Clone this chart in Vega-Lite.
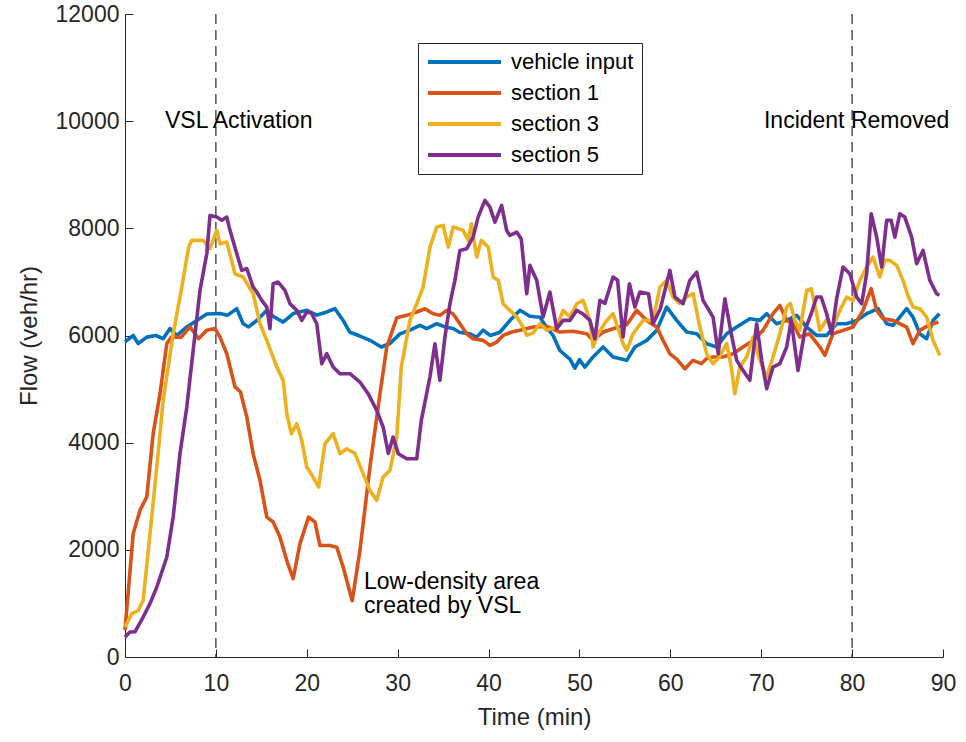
{
"$schema":"https://vega.github.io/schema/vega-lite/v6.json",
"width":818,"height":643,
"autosize":{"type":"none"},
"padding":{"left":125,"top":14,"right":23,"bottom":85},
"background":"white",
"config":{"view":{"stroke":null},"font":"Liberation Sans",
 "axis":{"grid":false,"domainColor":"#262626","tickColor":"#262626","labelColor":"#262626","titleColor":"#262626","labelFont":"Liberation Sans","titleFont":"Liberation Sans","labelFontSize":23,"titleFontSize":24,"titleFontWeight":"normal","tickSize":-8,"domainWidth":1,"tickWidth":1}},
"datasets":{
"flow":[
{"t":0,"v":5880,"s":"vehicle input"},{"t":0.9,"v":6000,"s":"vehicle input"},{"t":1.45,"v":5850,"s":"vehicle input"},{"t":2.4,"v":5970,"s":"vehicle input"},{"t":3.4,"v":6000,"s":"vehicle input"},{"t":4.2,"v":5940,"s":"vehicle input"},{"t":4.95,"v":6130,"s":"vehicle input"},{"t":5.7,"v":6000,"s":"vehicle input"},{"t":6.8,"v":6160,"s":"vehicle input"},{"t":7.9,"v":6280,"s":"vehicle input"},{"t":9.0,"v":6400,"s":"vehicle input"},{"t":10.45,"v":6410,"s":"vehicle input"},{"t":11.3,"v":6380,"s":"vehicle input"},{"t":12.3,"v":6500,"s":"vehicle input"},{"t":13.0,"v":6220,"s":"vehicle input"},{"t":13.6,"v":6160,"s":"vehicle input"},{"t":14.5,"v":6280,"s":"vehicle input"},{"t":15.6,"v":6470,"s":"vehicle input"},{"t":16.3,"v":6360,"s":"vehicle input"},{"t":17.4,"v":6250,"s":"vehicle input"},{"t":18.5,"v":6410,"s":"vehicle input"},{"t":20.0,"v":6470,"s":"vehicle input"},{"t":21.1,"v":6380,"s":"vehicle input"},{"t":22.2,"v":6440,"s":"vehicle input"},{"t":23.1,"v":6500,"s":"vehicle input"},{"t":24.0,"v":6280,"s":"vehicle input"},{"t":24.75,"v":6060,"s":"vehicle input"},{"t":25.85,"v":5990,"s":"vehicle input"},{"t":26.95,"v":5910,"s":"vehicle input"},{"t":28.2,"v":5785,"s":"vehicle input"},{"t":29.15,"v":5850,"s":"vehicle input"},{"t":30.25,"v":6030,"s":"vehicle input"},{"t":31.35,"v":6100,"s":"vehicle input"},{"t":32.45,"v":6190,"s":"vehicle input"},{"t":33.2,"v":6130,"s":"vehicle input"},{"t":34.3,"v":6220,"s":"vehicle input"},{"t":35.2,"v":6160,"s":"vehicle input"},{"t":36.1,"v":6130,"s":"vehicle input"},{"t":36.8,"v":6060,"s":"vehicle input"},{"t":37.95,"v":6030,"s":"vehicle input"},{"t":38.7,"v":5970,"s":"vehicle input"},{"t":39.4,"v":6100,"s":"vehicle input"},{"t":40.2,"v":6000,"s":"vehicle input"},{"t":41.25,"v":6060,"s":"vehicle input"},{"t":42.35,"v":6280,"s":"vehicle input"},{"t":43.45,"v":6470,"s":"vehicle input"},{"t":44.55,"v":6360,"s":"vehicle input"},{"t":45.65,"v":6340,"s":"vehicle input"},{"t":46.4,"v":6150,"s":"vehicle input"},{"t":47.1,"v":6000,"s":"vehicle input"},{"t":47.85,"v":5720,"s":"vehicle input"},{"t":48.95,"v":5560,"s":"vehicle input"},{"t":49.5,"v":5390,"s":"vehicle input"},{"t":50.0,"v":5550,"s":"vehicle input"},{"t":50.6,"v":5410,"s":"vehicle input"},{"t":51.5,"v":5600,"s":"vehicle input"},{"t":52.6,"v":5785,"s":"vehicle input"},{"t":53.7,"v":5600,"s":"vehicle input"},{"t":55.2,"v":5536,"s":"vehicle input"},{"t":56.1,"v":5785,"s":"vehicle input"},{"t":57.4,"v":5909,"s":"vehicle input"},{"t":58.5,"v":6096,"s":"vehicle input"},{"t":59.6,"v":6531,"s":"vehicle input"},{"t":60.7,"v":6282,"s":"vehicle input"},{"t":61.8,"v":6065,"s":"vehicle input"},{"t":62.9,"v":6033,"s":"vehicle input"},{"t":64.0,"v":5847,"s":"vehicle input"},{"t":65.1,"v":5785,"s":"vehicle input"},{"t":66.2,"v":6033,"s":"vehicle input"},{"t":67.3,"v":6158,"s":"vehicle input"},{"t":68.75,"v":6313,"s":"vehicle input"},{"t":69.85,"v":6282,"s":"vehicle input"},{"t":70.6,"v":6407,"s":"vehicle input"},{"t":71.7,"v":6220,"s":"vehicle input"},{"t":72.8,"v":6282,"s":"vehicle input"},{"t":73.9,"v":6376,"s":"vehicle input"},{"t":75.0,"v":6158,"s":"vehicle input"},{"t":76.1,"v":6002,"s":"vehicle input"},{"t":77.2,"v":6002,"s":"vehicle input"},{"t":78.3,"v":6220,"s":"vehicle input"},{"t":79.4,"v":6220,"s":"vehicle input"},{"t":80.5,"v":6282,"s":"vehicle input"},{"t":81.6,"v":6407,"s":"vehicle input"},{"t":82.85,"v":6500,"s":"vehicle input"},{"t":83.8,"v":6220,"s":"vehicle input"},{"t":84.5,"v":6190,"s":"vehicle input"},{"t":85.25,"v":6344,"s":"vehicle input"},{"t":86.0,"v":6500,"s":"vehicle input"},{"t":86.7,"v":6344,"s":"vehicle input"},{"t":87.45,"v":6033,"s":"vehicle input"},{"t":88.2,"v":5940,"s":"vehicle input"},{"t":88.9,"v":6282,"s":"vehicle input"},{"t":89.6,"v":6407,"s":"vehicle input"},
{"t":0,"v":500,"s":"section 1"},{"t":0.5,"v":1500,"s":"section 1"},{"t":0.9,"v":2300,"s":"section 1"},{"t":1.65,"v":2740,"s":"section 1"},{"t":2.4,"v":2990,"s":"section 1"},{"t":3.1,"v":4170,"s":"section 1"},{"t":3.85,"v":4910,"s":"section 1"},{"t":4.6,"v":5850,"s":"section 1"},{"t":5.1,"v":5970,"s":"section 1"},{"t":6.2,"v":5970,"s":"section 1"},{"t":7.15,"v":6160,"s":"section 1"},{"t":8.1,"v":5940,"s":"section 1"},{"t":9.0,"v":6100,"s":"section 1"},{"t":9.9,"v":6130,"s":"section 1"},{"t":10.45,"v":5970,"s":"section 1"},{"t":11.2,"v":5660,"s":"section 1"},{"t":12.1,"v":5040,"s":"section 1"},{"t":12.7,"v":4950,"s":"section 1"},{"t":13.4,"v":4480,"s":"section 1"},{"t":14.1,"v":3790,"s":"section 1"},{"t":14.85,"v":3300,"s":"section 1"},{"t":15.6,"v":2610,"s":"section 1"},{"t":16.3,"v":2520,"s":"section 1"},{"t":17.05,"v":2240,"s":"section 1"},{"t":17.8,"v":1800,"s":"section 1"},{"t":18.5,"v":1460,"s":"section 1"},{"t":19.25,"v":2115,"s":"section 1"},{"t":20.2,"v":2610,"s":"section 1"},{"t":20.9,"v":2520,"s":"section 1"},{"t":21.45,"v":2080,"s":"section 1"},{"t":22.55,"v":2080,"s":"section 1"},{"t":23.3,"v":2050,"s":"section 1"},{"t":24.0,"v":1680,"s":"section 1"},{"t":25.0,"v":1050,"s":"section 1"},{"t":25.85,"v":1990,"s":"section 1"},{"t":26.95,"v":3545,"s":"section 1"},{"t":28.05,"v":4910,"s":"section 1"},{"t":28.8,"v":5785,"s":"section 1"},{"t":29.9,"v":6330,"s":"section 1"},{"t":31.0,"v":6376,"s":"section 1"},{"t":32.1,"v":6438,"s":"section 1"},{"t":33.0,"v":6500,"s":"section 1"},{"t":33.9,"v":6407,"s":"section 1"},{"t":34.65,"v":6376,"s":"section 1"},{"t":35.4,"v":6469,"s":"section 1"},{"t":36.1,"v":6400,"s":"section 1"},{"t":36.85,"v":6220,"s":"section 1"},{"t":37.6,"v":6033,"s":"section 1"},{"t":38.3,"v":5940,"s":"section 1"},{"t":39.4,"v":5909,"s":"section 1"},{"t":40.15,"v":5816,"s":"section 1"},{"t":40.9,"v":5878,"s":"section 1"},{"t":41.6,"v":6002,"s":"section 1"},{"t":42.55,"v":6065,"s":"section 1"},{"t":43.45,"v":6100,"s":"section 1"},{"t":44.9,"v":6158,"s":"section 1"},{"t":46.4,"v":6170,"s":"section 1"},{"t":47.85,"v":6065,"s":"section 1"},{"t":49.3,"v":6080,"s":"section 1"},{"t":50.8,"v":6033,"s":"section 1"},{"t":51.5,"v":5909,"s":"section 1"},{"t":52.6,"v":6065,"s":"section 1"},{"t":53.7,"v":6127,"s":"section 1"},{"t":55.2,"v":6200,"s":"section 1"},{"t":56.3,"v":6469,"s":"section 1"},{"t":57.4,"v":6282,"s":"section 1"},{"t":58.5,"v":6158,"s":"section 1"},{"t":59.2,"v":5909,"s":"section 1"},{"t":59.95,"v":5660,"s":"section 1"},{"t":60.7,"v":5560,"s":"section 1"},{"t":61.6,"v":5380,"s":"section 1"},{"t":62.5,"v":5536,"s":"section 1"},{"t":63.4,"v":5474,"s":"section 1"},{"t":64.0,"v":5570,"s":"section 1"},{"t":64.7,"v":5598,"s":"section 1"},{"t":65.8,"v":5598,"s":"section 1"},{"t":66.9,"v":5660,"s":"section 1"},{"t":68.0,"v":5785,"s":"section 1"},{"t":69.1,"v":5909,"s":"section 1"},{"t":70.2,"v":6096,"s":"section 1"},{"t":71.3,"v":6407,"s":"section 1"},{"t":72.05,"v":6562,"s":"section 1"},{"t":72.8,"v":6282,"s":"section 1"},{"t":73.5,"v":6220,"s":"section 1"},{"t":74.25,"v":5971,"s":"section 1"},{"t":75.3,"v":6033,"s":"section 1"},{"t":76.45,"v":5785,"s":"section 1"},{"t":77.0,"v":5629,"s":"section 1"},{"t":77.9,"v":6033,"s":"section 1"},{"t":79.0,"v":6096,"s":"section 1"},{"t":80.1,"v":6158,"s":"section 1"},{"t":81.2,"v":6469,"s":"section 1"},{"t":82.1,"v":6873,"s":"section 1"},{"t":82.7,"v":6469,"s":"section 1"},{"t":83.4,"v":6313,"s":"section 1"},{"t":84.5,"v":6282,"s":"section 1"},{"t":85.25,"v":6220,"s":"section 1"},{"t":86.0,"v":6158,"s":"section 1"},{"t":86.7,"v":5847,"s":"section 1"},{"t":87.45,"v":6096,"s":"section 1"},{"t":88.4,"v":6189,"s":"section 1"},{"t":89.5,"v":6251,"s":"section 1"},
{"t":0,"v":560,"s":"section 3"},{"t":0.75,"v":810,"s":"section 3"},{"t":1.45,"v":870,"s":"section 3"},{"t":2.0,"v":1060,"s":"section 3"},{"t":2.75,"v":2300,"s":"section 3"},{"t":3.5,"v":3545,"s":"section 3"},{"t":4.2,"v":4790,"s":"section 3"},{"t":5.3,"v":6030,"s":"section 3"},{"t":6.25,"v":6900,"s":"section 3"},{"t":7.0,"v":7650,"s":"section 3"},{"t":7.35,"v":7775,"s":"section 3"},{"t":8.6,"v":7775,"s":"section 3"},{"t":9.35,"v":7620,"s":"section 3"},{"t":10.1,"v":7960,"s":"section 3"},{"t":10.45,"v":7713,"s":"section 3"},{"t":11.2,"v":7744,"s":"section 3"},{"t":12.1,"v":7153,"s":"section 3"},{"t":13.0,"v":7091,"s":"section 3"},{"t":14.1,"v":6780,"s":"section 3"},{"t":14.85,"v":6220,"s":"section 3"},{"t":15.6,"v":5909,"s":"section 3"},{"t":16.7,"v":5411,"s":"section 3"},{"t":17.4,"v":5163,"s":"section 3"},{"t":17.8,"v":4540,"s":"section 3"},{"t":18.3,"v":4167,"s":"section 3"},{"t":18.9,"v":4354,"s":"section 3"},{"t":19.45,"v":4043,"s":"section 3"},{"t":20.0,"v":3545,"s":"section 3"},{"t":20.7,"v":3358,"s":"section 3"},{"t":21.3,"v":3172,"s":"section 3"},{"t":22.0,"v":3980,"s":"section 3"},{"t":22.9,"v":4167,"s":"section 3"},{"t":23.65,"v":3794,"s":"section 3"},{"t":24.4,"v":3887,"s":"section 3"},{"t":25.3,"v":3800,"s":"section 3"},{"t":26.2,"v":3421,"s":"section 3"},{"t":26.95,"v":3110,"s":"section 3"},{"t":27.7,"v":2923,"s":"section 3"},{"t":28.4,"v":3358,"s":"section 3"},{"t":29.15,"v":3483,"s":"section 3"},{"t":29.9,"v":4105,"s":"section 3"},{"t":30.4,"v":5411,"s":"section 3"},{"t":31.35,"v":6282,"s":"section 3"},{"t":32.1,"v":6593,"s":"section 3"},{"t":32.8,"v":6904,"s":"section 3"},{"t":33.55,"v":7650,"s":"section 3"},{"t":34.3,"v":8024,"s":"section 3"},{"t":35.0,"v":8055,"s":"section 3"},{"t":35.57,"v":7650,"s":"section 3"},{"t":36.1,"v":8024,"s":"section 3"},{"t":37.2,"v":7962,"s":"section 3"},{"t":37.77,"v":7775,"s":"section 3"},{"t":38.1,"v":8086,"s":"section 3"},{"t":38.7,"v":7464,"s":"section 3"},{"t":39.2,"v":7775,"s":"section 3"},{"t":39.97,"v":7650,"s":"section 3"},{"t":40.5,"v":7091,"s":"section 3"},{"t":41.07,"v":7029,"s":"section 3"},{"t":41.6,"v":6593,"s":"section 3"},{"t":42.35,"v":6469,"s":"section 3"},{"t":43.1,"v":6344,"s":"section 3"},{"t":43.8,"v":6158,"s":"section 3"},{"t":44.2,"v":6002,"s":"section 3"},{"t":44.9,"v":6050,"s":"section 3"},{"t":45.65,"v":6220,"s":"section 3"},{"t":46.4,"v":6100,"s":"section 3"},{"t":47.5,"v":6158,"s":"section 3"},{"t":48.2,"v":6469,"s":"section 3"},{"t":48.95,"v":6344,"s":"section 3"},{"t":49.7,"v":6593,"s":"section 3"},{"t":50.4,"v":6655,"s":"section 3"},{"t":51.15,"v":6282,"s":"section 3"},{"t":51.5,"v":5785,"s":"section 3"},{"t":52.05,"v":6033,"s":"section 3"},{"t":53.0,"v":6282,"s":"section 3"},{"t":53.7,"v":6407,"s":"section 3"},{"t":54.8,"v":5847,"s":"section 3"},{"t":55.2,"v":5722,"s":"section 3"},{"t":55.9,"v":6033,"s":"section 3"},{"t":57.0,"v":6282,"s":"section 3"},{"t":58.1,"v":6282,"s":"section 3"},{"t":58.85,"v":6904,"s":"section 3"},{"t":59.6,"v":7029,"s":"section 3"},{"t":60.3,"v":6718,"s":"section 3"},{"t":61.0,"v":6600,"s":"section 3"},{"t":61.8,"v":6718,"s":"section 3"},{"t":62.5,"v":6780,"s":"section 3"},{"t":63.25,"v":6158,"s":"section 3"},{"t":64.0,"v":5660,"s":"section 3"},{"t":64.7,"v":5474,"s":"section 3"},{"t":65.4,"v":5600,"s":"section 3"},{"t":66.2,"v":5847,"s":"section 3"},{"t":66.7,"v":5411,"s":"section 3"},{"t":67.1,"v":4914,"s":"section 3"},{"t":67.65,"v":5411,"s":"section 3"},{"t":68.4,"v":5600,"s":"section 3"},{"t":69.1,"v":5971,"s":"section 3"},{"t":69.85,"v":5536,"s":"section 3"},{"t":70.6,"v":5225,"s":"section 3"},{"t":71.3,"v":5598,"s":"section 3"},{"t":72.05,"v":6033,"s":"section 3"},{"t":72.8,"v":6531,"s":"section 3"},{"t":73.2,"v":6600,"s":"section 3"},{"t":73.7,"v":6282,"s":"section 3"},{"t":74.25,"v":6100,"s":"section 3"},{"t":75.0,"v":6842,"s":"section 3"},{"t":75.5,"v":6873,"s":"section 3"},{"t":76.1,"v":6407,"s":"section 3"},{"t":76.45,"v":6096,"s":"section 3"},{"t":77.2,"v":6300,"s":"section 3"},{"t":77.9,"v":6158,"s":"section 3"},{"t":78.65,"v":6469,"s":"section 3"},{"t":79.4,"v":6718,"s":"section 3"},{"t":80.1,"v":6650,"s":"section 3"},{"t":80.85,"v":7029,"s":"section 3"},{"t":81.6,"v":7277,"s":"section 3"},{"t":82.3,"v":7464,"s":"section 3"},{"t":83.05,"v":7091,"s":"section 3"},{"t":83.6,"v":7402,"s":"section 3"},{"t":84.15,"v":7402,"s":"section 3"},{"t":84.9,"v":7309,"s":"section 3"},{"t":85.6,"v":7029,"s":"section 3"},{"t":86.2,"v":6718,"s":"section 3"},{"t":86.7,"v":6531,"s":"section 3"},{"t":87.45,"v":6500,"s":"section 3"},{"t":88.2,"v":6344,"s":"section 3"},{"t":88.9,"v":5909,"s":"section 3"},{"t":89.65,"v":5629,"s":"section 3"},
{"t":0,"v":373,"s":"section 5"},{"t":0.55,"v":467,"s":"section 5"},{"t":1.1,"v":470,"s":"section 5"},{"t":2.0,"v":746,"s":"section 5"},{"t":2.75,"v":995,"s":"section 5"},{"t":3.5,"v":1306,"s":"section 5"},{"t":4.6,"v":1866,"s":"section 5"},{"t":5.3,"v":2612,"s":"section 5"},{"t":6.05,"v":3794,"s":"section 5"},{"t":6.8,"v":4665,"s":"section 5"},{"t":7.5,"v":5722,"s":"section 5"},{"t":8.25,"v":6842,"s":"section 5"},{"t":9.0,"v":7526,"s":"section 5"},{"t":9.35,"v":8241,"s":"section 5"},{"t":10.1,"v":8210,"s":"section 5"},{"t":10.65,"v":8150,"s":"section 5"},{"t":11.2,"v":8210,"s":"section 5"},{"t":11.55,"v":7962,"s":"section 5"},{"t":12.3,"v":7526,"s":"section 5"},{"t":12.85,"v":7215,"s":"section 5"},{"t":13.4,"v":7250,"s":"section 5"},{"t":14.1,"v":6904,"s":"section 5"},{"t":14.5,"v":6811,"s":"section 5"},{"t":15.05,"v":6655,"s":"section 5"},{"t":15.6,"v":6531,"s":"section 5"},{"t":15.95,"v":6127,"s":"section 5"},{"t":16.3,"v":6966,"s":"section 5"},{"t":16.85,"v":6998,"s":"section 5"},{"t":17.6,"v":6842,"s":"section 5"},{"t":18.15,"v":6593,"s":"section 5"},{"t":18.9,"v":6469,"s":"section 5"},{"t":19.45,"v":6282,"s":"section 5"},{"t":20.0,"v":6438,"s":"section 5"},{"t":20.5,"v":6420,"s":"section 5"},{"t":21.1,"v":6220,"s":"section 5"},{"t":21.65,"v":5474,"s":"section 5"},{"t":22.2,"v":5660,"s":"section 5"},{"t":22.9,"v":5411,"s":"section 5"},{"t":23.65,"v":5287,"s":"section 5"},{"t":24.75,"v":5287,"s":"section 5"},{"t":25.85,"v":5132,"s":"section 5"},{"t":26.75,"v":4914,"s":"section 5"},{"t":27.7,"v":4603,"s":"section 5"},{"t":28.4,"v":4292,"s":"section 5"},{"t":28.97,"v":3800,"s":"section 5"},{"t":29.5,"v":4105,"s":"section 5"},{"t":30.07,"v":3794,"s":"section 5"},{"t":31.0,"v":3701,"s":"section 5"},{"t":32.1,"v":3701,"s":"section 5"},{"t":32.6,"v":4416,"s":"section 5"},{"t":33.55,"v":5225,"s":"section 5"},{"t":34.1,"v":5847,"s":"section 5"},{"t":34.65,"v":5163,"s":"section 5"},{"t":35.2,"v":5971,"s":"section 5"},{"t":35.75,"v":6593,"s":"section 5"},{"t":36.3,"v":7029,"s":"section 5"},{"t":36.85,"v":7588,"s":"section 5"},{"t":37.6,"v":7620,"s":"section 5"},{"t":38.3,"v":7837,"s":"section 5"},{"t":38.85,"v":8210,"s":"section 5"},{"t":39.6,"v":8521,"s":"section 5"},{"t":40.15,"v":8397,"s":"section 5"},{"t":40.7,"v":8117,"s":"section 5"},{"t":41.44,"v":8428,"s":"section 5"},{"t":41.99,"v":7962,"s":"section 5"},{"t":42.35,"v":7868,"s":"section 5"},{"t":43.1,"v":7930,"s":"section 5"},{"t":43.6,"v":7800,"s":"section 5"},{"t":44.2,"v":6780,"s":"section 5"},{"t":44.55,"v":7308,"s":"section 5"},{"t":45.3,"v":7029,"s":"section 5"},{"t":46.0,"v":6344,"s":"section 5"},{"t":46.75,"v":6811,"s":"section 5"},{"t":47.5,"v":6127,"s":"section 5"},{"t":48.2,"v":6282,"s":"section 5"},{"t":48.95,"v":6282,"s":"section 5"},{"t":49.7,"v":6469,"s":"section 5"},{"t":50.4,"v":6400,"s":"section 5"},{"t":51.15,"v":6282,"s":"section 5"},{"t":51.7,"v":5940,"s":"section 5"},{"t":52.25,"v":6655,"s":"section 5"},{"t":52.8,"v":6600,"s":"section 5"},{"t":53.7,"v":7091,"s":"section 5"},{"t":54.2,"v":7030,"s":"section 5"},{"t":54.8,"v":5971,"s":"section 5"},{"t":55.5,"v":6966,"s":"section 5"},{"t":56.1,"v":6531,"s":"section 5"},{"t":56.65,"v":6811,"s":"section 5"},{"t":57.6,"v":6780,"s":"section 5"},{"t":58.1,"v":6220,"s":"section 5"},{"t":58.9,"v":6500,"s":"section 5"},{"t":59.95,"v":7215,"s":"section 5"},{"t":60.5,"v":6718,"s":"section 5"},{"t":61.4,"v":6593,"s":"section 5"},{"t":62.15,"v":7029,"s":"section 5"},{"t":62.9,"v":7184,"s":"section 5"},{"t":63.6,"v":6655,"s":"section 5"},{"t":64.7,"v":6344,"s":"section 5"},{"t":65.27,"v":5660,"s":"section 5"},{"t":66.0,"v":6687,"s":"section 5"},{"t":66.7,"v":6033,"s":"section 5"},{"t":67.3,"v":5536,"s":"section 5"},{"t":68.0,"v":5349,"s":"section 5"},{"t":68.75,"v":5163,"s":"section 5"},{"t":69.5,"v":6220,"s":"section 5"},{"t":70.05,"v":5536,"s":"section 5"},{"t":70.6,"v":5007,"s":"section 5"},{"t":71.3,"v":5411,"s":"section 5"},{"t":72.05,"v":5474,"s":"section 5"},{"t":72.8,"v":5785,"s":"section 5"},{"t":73.3,"v":6282,"s":"section 5"},{"t":74.05,"v":5349,"s":"section 5"},{"t":74.8,"v":6096,"s":"section 5"},{"t":75.5,"v":6407,"s":"section 5"},{"t":76.1,"v":6718,"s":"section 5"},{"t":76.6,"v":6718,"s":"section 5"},{"t":77.2,"v":6407,"s":"section 5"},{"t":77.75,"v":6033,"s":"section 5"},{"t":78.3,"v":6687,"s":"section 5"},{"t":79.0,"v":7277,"s":"section 5"},{"t":79.75,"v":7153,"s":"section 5"},{"t":80.5,"v":6718,"s":"section 5"},{"t":81.05,"v":6593,"s":"section 5"},{"t":81.6,"v":7153,"s":"section 5"},{"t":82.1,"v":8273,"s":"section 5"},{"t":82.7,"v":7837,"s":"section 5"},{"t":83.25,"v":7277,"s":"section 5"},{"t":83.8,"v":8148,"s":"section 5"},{"t":84.3,"v":8148,"s":"section 5"},{"t":84.7,"v":7837,"s":"section 5"},{"t":85.25,"v":8273,"s":"section 5"},{"t":85.8,"v":8210,"s":"section 5"},{"t":86.55,"v":7837,"s":"section 5"},{"t":87.1,"v":7340,"s":"section 5"},{"t":87.8,"v":7588,"s":"section 5"},{"t":88.55,"v":7029,"s":"section 5"},{"t":89.3,"v":6780,"s":"section 5"},{"t":89.6,"v":6750,"s":"section 5"}
],
"events":[{"t":10},{"t":80}],
"notes":[
{"t":4.4,"v":10000,"label":"VSL Activation"},
{"t":70.3,"v":10000,"label":"Incident Removed"},
{"t":26.3,"v":1400,"label":"Low-density area"},
{"t":26.3,"v":946,"label":"created by VSL"}
]},
"layer":[
{"data":{"name":"events"},
 "mark":{"type":"rule","strokeDash":[10,6],"color":"#262626","strokeWidth":1.2},
 "encoding":{"x":{"field":"t","type":"quantitative","scale":{"domain":[0,90],"nice":false}}}},
{"data":{"name":"flow"},
 "mark":{"type":"line","strokeWidth":3.6,"strokeJoin":"round"},
 "encoding":{
  "x":{"field":"t","type":"quantitative","scale":{"domain":[0,90],"nice":false},
       "axis":{"values":[0,10,20,30,40,50,60,70,80,90],"title":"Time (min)","labelPadding":23,"titlePadding":10,"labelFlush":false}},
  "y":{"field":"v","type":"quantitative","scale":{"domain":[0,12000],"nice":false},
       "axis":{"values":[0,2000,4000,6000,8000,10000,12000],"format":"d","title":"Flow (veh/hr)","labelPadding":14,"titlePadding":14,"labelFlush":false}},
  "color":{"field":"s","type":"nominal",
    "scale":{"domain":["vehicle input","section 1","section 3","section 5"],"range":["#0072BD","#D95319","#EDB120","#7E2F8E"]},
    "legend":{"orient":"none","legendX":293,"legendY":29,"title":null,"symbolType":"stroke","symbolSize":5329,"symbolStrokeWidth":4,
      "labelFontSize":22,"labelFont":"Liberation Sans","labelColor":"black","strokeColor":"#262626","fillColor":"white",
      "padding":8,"rowPadding":9,"clipHeight":22,"labelOffset":8}}}},
{"data":{"name":"notes"},
 "mark":{"type":"text","align":"left","baseline":"middle","fontSize":23,"font":"Liberation Sans","color":"black"},
 "encoding":{"x":{"field":"t","type":"quantitative"},"y":{"field":"v","type":"quantitative"},"text":{"field":"label"}}}
]
}
